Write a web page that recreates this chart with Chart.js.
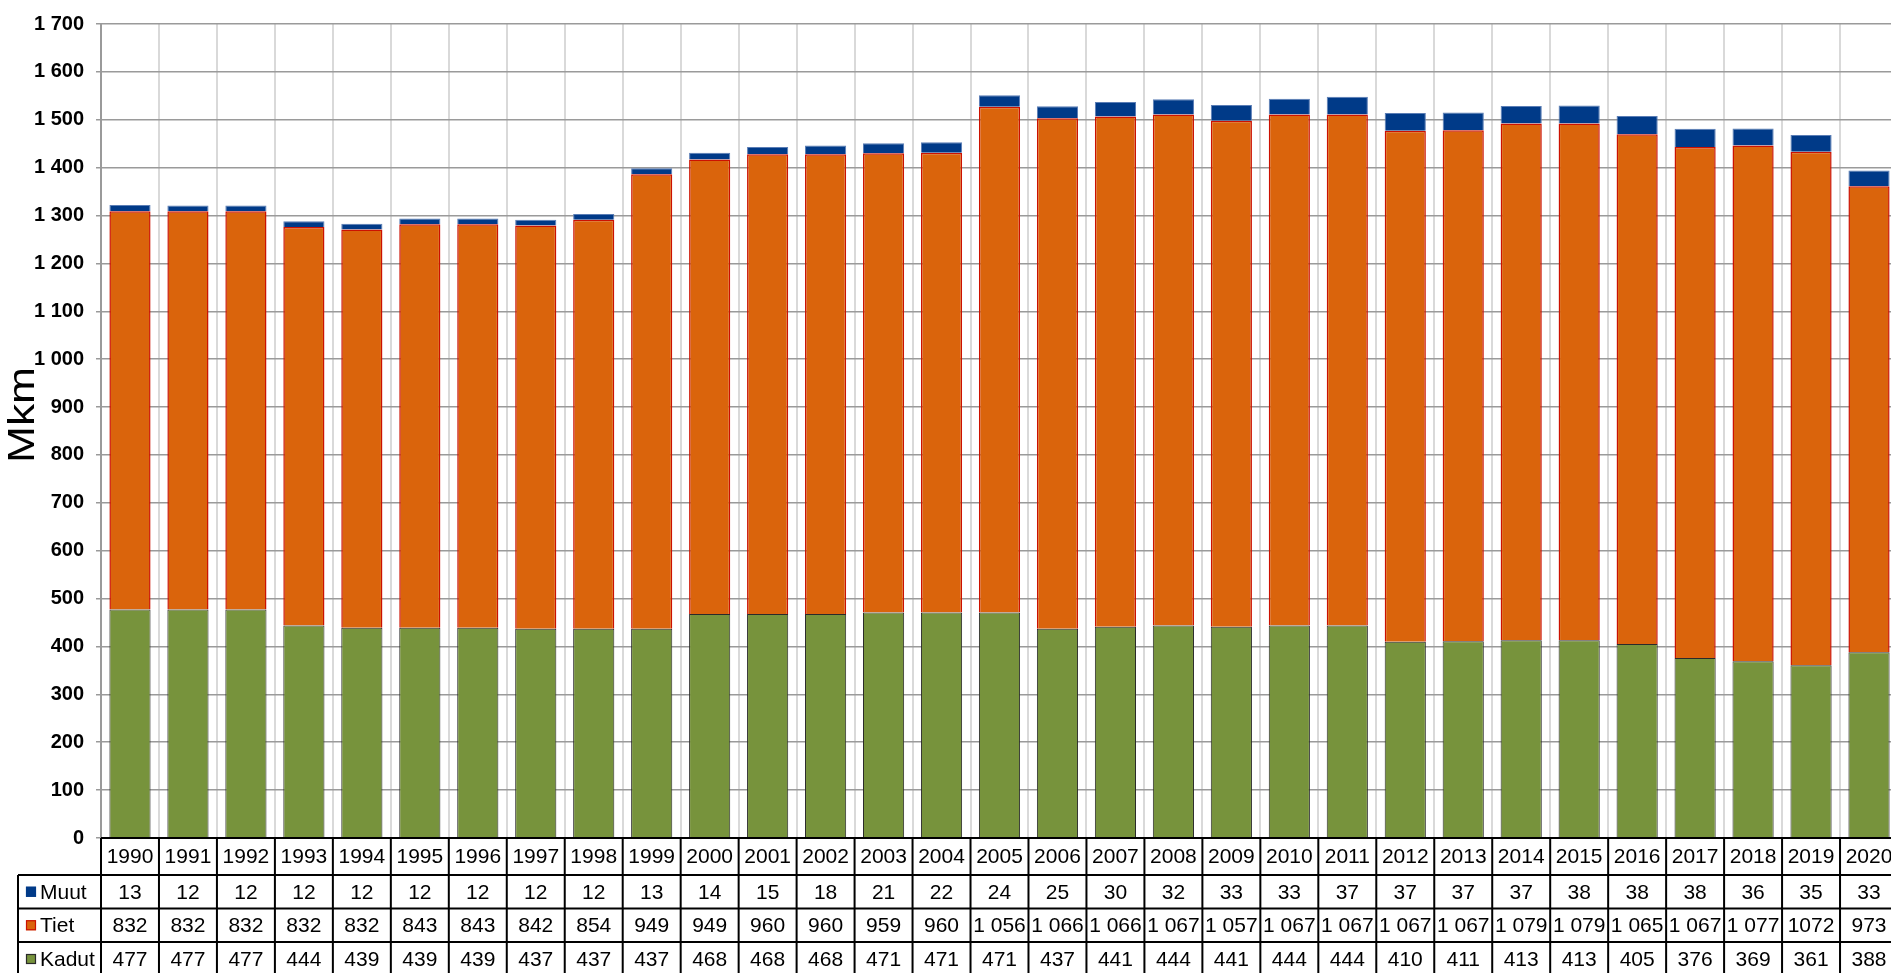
<!DOCTYPE html>
<html>
<head>
<meta charset="utf-8">
<script src="https://cdn.jsdelivr.net/npm/chart.js@4/dist/chart.umd.min.js"></script>
<style>
html,body{margin:0;padding:0;background:#fff;overflow:hidden;}
#wrap{width:1891px;height:973px;overflow:hidden;position:relative;}
canvas{display:block;}
</style>
</head>
<body>
<div id="wrap"><canvas id="c" width="1910" height="973"></canvas></div>
<script>
const years = ['1990','1991','1992','1993','1994','1995','1996','1997','1998','1999','2000','2001','2002','2003','2004','2005','2006','2007','2008','2009','2010','2011','2012','2013','2014','2015','2016','2017','2018','2019','2020'];
const muut  = [13,12,12,12,12,12,12,12,12,13,14,15,18,21,22,24,25,30,32,33,33,37,37,37,37,38,38,38,36,35,33];
const tiet  = [832,832,832,832,832,843,843,842,854,949,949,960,960,959,960,1056,1066,1066,1067,1057,1067,1067,1067,1067,1079,1079,1065,1067,1077,1072,973];
const kadut = [477,477,477,444,439,439,439,437,437,437,468,468,468,471,471,471,437,441,444,441,444,444,410,411,413,413,405,376,369,361,388];
const seriesNames = ['Muut','Tiet','Kadut'];
const yMin = 0, yMax = 1700, yStep = 100;
const unitLabel = 'Mkm';
// years whose table value is printed without a thousands separator in the source
const plainYears = ['2019'];

const COL = {
  muut: '#003A88', muutB: '#5a7db5',
  tiet: '#DA640C', tietB: '#CC1100',
  kadut: '#77933C', kadutB: '#2a2a2a'
};

function fmt(v, year){
  const s = String(v);
  if (v >= 1000 && !(year && plainYears.includes(year))) {
    return s.slice(0, s.length-3) + ' ' + s.slice(-3);
  }
  return s;
}

const TABLE = { top: 838, rows: [838, 875, 908.5, 942, 976], legendLeft: 18 };

const tablePlugin = {
  id: 'tablePlugin',
  afterDraw(chart){
    const ctx = chart.ctx;
    const x = chart.scales.x;
    const n = years.length;
    const colW = (x.right - x.left) / n;
    const left = x.left, right = x.right;
    const r = TABLE.rows;
    ctx.save();
    ctx.strokeStyle = '#000';
    ctx.lineWidth = 2;
    ctx.beginPath();
    ctx.moveTo(left, r[0]); ctx.lineTo(right, r[0]);
    for (let k = 1; k < r.length; k++) {
      ctx.moveTo(TABLE.legendLeft, r[k]); ctx.lineTo(right, r[k]);
    }
    for (let i = 0; i <= n; i++) {
      const xx = left + i * colW;
      ctx.moveTo(xx, r[0]); ctx.lineTo(xx, r[r.length-1]);
    }
    ctx.moveTo(TABLE.legendLeft, r[1]); ctx.lineTo(TABLE.legendLeft, r[r.length-1]);
    ctx.stroke();

    ctx.fillStyle = '#000';
    ctx.font = '21px "Liberation Sans", Arial, sans-serif';
    ctx.textAlign = 'center';
    ctx.textBaseline = 'middle';
    const rowData = [years, muut, tiet, kadut];
    for (let i = 0; i < n; i++) {
      const cx = x.getPixelForValue(i);
      for (let k = 0; k < 4; k++) {
        const cy = (r[k] + r[k+1]) / 2 + 1;
        const txt = k === 0 ? years[i] : fmt(rowData[k][i], years[i]);
        ctx.fillText(txt, cx, cy);
      }
    }
    const fills = [COL.muut, COL.tiet, COL.kadut];
    const borders = [COL.muut, COL.tietB, COL.kadutB];
    ctx.textAlign = 'left';
    for (let k = 0; k < 3; k++) {
      const cy = (r[k+1] + r[k+2]) / 2;
      ctx.fillStyle = fills[k];
      ctx.fillRect(26, cy - 5, 10, 10);
      ctx.strokeStyle = borders[k];
      ctx.lineWidth = 1.2;
      ctx.strokeRect(26.5, cy - 4.5, 9, 9);
      ctx.fillStyle = '#000';
      ctx.fillText(seriesNames[k], 40, cy + 1);
    }

    ctx.save();
    ctx.font = '36px "Liberation Sans", Arial, sans-serif';
    const w = ctx.measureText(unitLabel).width;
    ctx.translate(34, 415);
    ctx.rotate(-Math.PI/2);
    ctx.scale(96 / w, 1);
    ctx.textAlign = 'center';
    ctx.textBaseline = 'alphabetic';
    ctx.fillStyle = '#000';
    ctx.fillText(unitLabel, 0, 0);
    ctx.restore();
    ctx.restore();
  }
};

new Chart(document.getElementById('c'), {
  type: 'bar',
  data: {
    labels: years,
    datasets: [
      { label: 'Kadut', data: kadut, backgroundColor: COL.kadut, borderColor: COL.kadutB, borderWidth: 1 },
      { label: 'Tiet', data: tiet, backgroundColor: COL.tiet, borderColor: COL.tietB, borderWidth: 1.5 },
      { label: 'Muut', data: muut, backgroundColor: COL.muut, borderColor: COL.muutB, borderWidth: 1 }
    ]
  },
  options: {
    responsive: false,
    animation: false,
    devicePixelRatio: 1,
    layout: { padding: { left: 0, top: 16, right: 12, bottom: 135 } },
    plugins: { legend: { display: false }, tooltip: { enabled: false } },
    datasets: { bar: { categoryPercentage: 1, barPercentage: 0.71 } },
    scales: {
      x: {
        stacked: true,
        ticks: { display: false },
        grid: { color: '#d9d9d9', lineWidth: 2, drawTicks: false, offset: true },
        border: { display: true, color: '#000', width: 2 },
        afterFit(s){ s.height = 0; }
      },
      y: {
        stacked: true,
        min: yMin, max: yMax,
        ticks: {
          stepSize: yStep,
          color: '#000',
          padding: 12,
          font: { family: '"Liberation Sans", Arial, sans-serif', size: 20, weight: 'bold' },
          callback: (v) => fmt(v)
        },
        grid: { color: '#9a9a9a', lineWidth: 1.5, tickLength: 5 },
        border: { display: true, color: '#9a9a9a', width: 2 },
        afterFit(s){ s.width = 101; }
      }
    }
  },
  plugins: [tablePlugin]
});
</script>
</body>
</html>
